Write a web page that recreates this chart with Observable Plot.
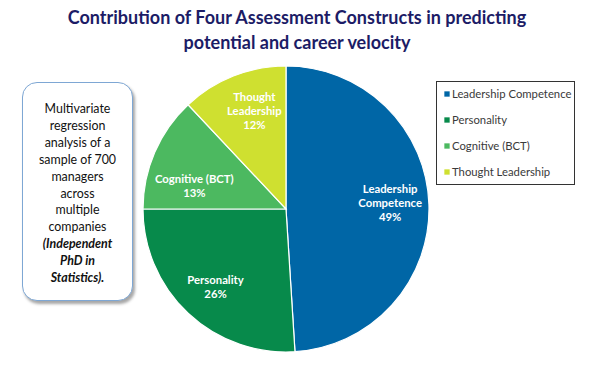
<!DOCTYPE html>
<html>
<head>
<meta charset="utf-8">
<script src="https://cdn.jsdelivr.net/npm/d3@7"></script>
<script src="https://cdn.jsdelivr.net/npm/@observablehq/plot@0.6"></script>
<style>
  html, body { margin: 0; padding: 0; background: #fff; }
  #wrap { position: relative; width: 594px; height: 368px; overflow: hidden; font-family: Lato, "Open Sans", sans-serif; }
  #title { position: absolute; left: 0; top: 5px; width: 594px; text-align: center; font-weight: bold; font-size: 18px; line-height: 25px; color: #1c1c66; }
  #note { position: absolute; left: 22px; top: 82px; width: 111px; height: 219px; border: 1px solid #7ea7d4; border-radius: 15px; box-shadow: 2px 3px 3px rgba(0,0,0,0.35); background: #fff; box-sizing: border-box; padding-top: 18px; text-align: center; font-size: 12.4px; line-height: 16.9px; color: #111; }
  #note b { font-style: italic; }
  #legendbox { position: absolute; left: 436px; top: 81px; width: 139px; height: 104px; border: 1px solid #333; box-sizing: border-box; }
  svg { position: absolute; left: 0; top: 0; }
</style>
</head>
<body>
<div id="wrap">
  <div id="title">Contribution of Four Assessment Constructs in predicting<br>potential and career velocity</div>
  <div id="note">Multivariate<br>regression<br>analysis of a<br>sample of 700<br>managers<br>across<br>multiple<br>companies<br><b>(Independent<br>PhD in<br>Statistics).</b></div>
  <div id="legendbox"></div>
</div>
<script>
const categories = ["Leadership Competence", "Personality", "Cognitive (BCT)", "Thought Leadership"];
const sliceLabels = ["Leadership\nCompetence", "Personality", "Cognitive (BCT)", "Thought\nLeadership"];
const shares = [49, 26, 13, 12];
const colors = ["#0066a6", "#078a4b", "#4cb960", "#cfe030"];

const data = categories.map((c, i) => ({category: c, label: sliceLabels[i], value: shares[i]}));

// layout constants
const cx = 286, cy = 209, R = 143;
const labelNudge = [[0, -4], [0, 1], [3, 17], [6, -3]]; // per-slice label adjustment (px)
const pie = d3.pie().sort(null).value(d => d.value);
const arcs = pie(data);
const arcGen = d3.arc().innerRadius(0).outerRadius(R);
const labelArc = d3.arc().innerRadius(0).outerRadius(R * 1.45);

const color = Plot.scale({color: {type: "ordinal", domain: categories, range: colors}});

function pieMark(index, scales, values, dimensions, context) {
  const g = d3.create("svg:g").attr("transform", `translate(${cx},${cy})`);
  g.selectAll("path")
    .data(arcs)
    .join("path")
    .attr("d", arcGen)
    .attr("fill", d => color.apply(d.data.category))
    .attr("stroke", "#fff")
    .attr("stroke-width", 1.2);
  return g.node();
}

const legendX = 444, legendY0 = 93.5, legendStep = 26;

const plot = Plot.plot({
  width: 594,
  height: 368,
  margin: 0,
  x: {type: "identity", axis: null},
  y: {type: "identity", axis: null},
  color: {type: "ordinal", domain: categories, range: colors},
  style: {background: "transparent", fontFamily: "Lato, 'Open Sans', sans-serif"},
  marks: [
    pieMark,
    Plot.text(arcs, {
      x: d => cx + labelArc.centroid(d)[0] + labelNudge[d.index][0],
      y: d => cy + labelArc.centroid(d)[1] + labelNudge[d.index][1],
      text: d => d.data.label + "\n" + d.data.value + "%",
      fill: "white",
      fontWeight: "bold",
      fontSize: 11.3,
      lineHeight: 1.25
    }),
    Plot.dot(categories, {
      x: () => legendX + 2.5,
      y: (d, i) => legendY0 + i * legendStep,
      symbol: "square",
      r: 3,
      fill: d => d,
      stroke: null
    }),
    Plot.text(categories, {
      x: () => legendX + 7.5,
      y: (d, i) => legendY0 + i * legendStep,
      text: d => d,
      textAnchor: "start",
      fill: "#3a3a3a",
      fontSize: 11.3
    })
  ]
});
document.getElementById("wrap").appendChild(plot);
</script>
</body>
</html>
